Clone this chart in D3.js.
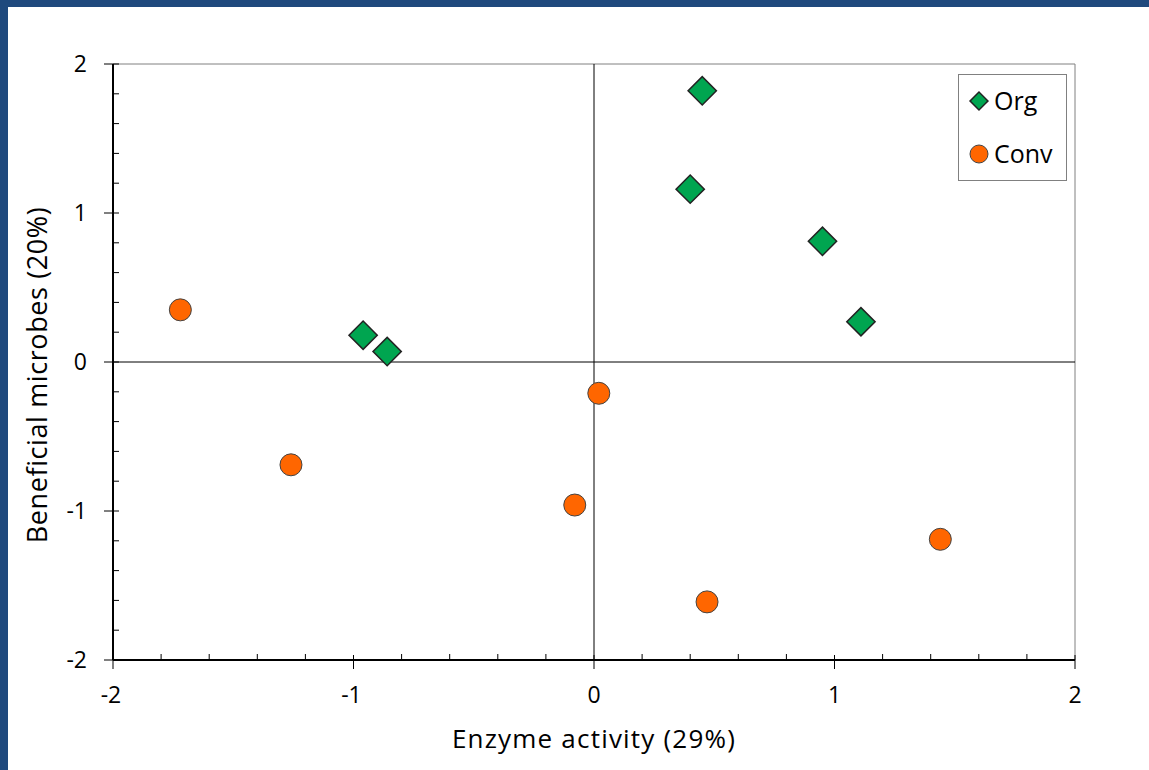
<!DOCTYPE html>
<html>
<head>
<meta charset="utf-8">
<script src="https://cdn.jsdelivr.net/npm/d3@7"></script>
<style>
  body { margin: 0; background: #fff; }
  svg { display: block; font-family: "Open Sans", Lato, sans-serif; }
</style>
</head>
<body>
<script>
// PCA scores
var orgX = [0.45, 0.40, 0.95, 1.11, -0.96, -0.86];
var orgY = [1.82, 1.16, 0.81, 0.27, 0.18, 0.07];
var convX = [-1.72, -1.26, 0.02, -0.08, 1.44, 0.47];
var convY = [0.35, -0.69, -0.21, -0.96, -1.19, -1.61];
var majorTicks = [-2, -1, 0, 1, 2];
var seriesNames = ["Org", "Conv"];

var w = 1149, h = 770;
var svg = d3.select("body").append("svg")
            .attr("width", w)
            .attr("height", h);

// blue frame on left and top
svg.append("rect").attr("x", 0).attr("y", 0).attr("width", w).attr("height", 7).attr("fill", "#1f497d");
svg.append("rect").attr("x", 0).attr("y", 0).attr("width", 8).attr("height", h).attr("fill", "#1f497d");

var x = d3.scaleLinear().domain([-2, 2]).range([113, 1075]);
var y = d3.scaleLinear().domain([-2, 2]).range([660, 64]);

var minor = d3.range(-2, 2.001, 0.2).filter(function(v) { return Math.abs(v - Math.round(v)) > 0.01; });

// plot border (top & right)
svg.append("line").attr("x1", x(-2)).attr("x2", x(2)).attr("y1", y(2)).attr("y2", y(2))
   .attr("stroke", "#808080").attr("stroke-width", 1);
svg.append("line").attr("x1", x(2)).attr("x2", x(2)).attr("y1", y(2)).attr("y2", y(-2))
   .attr("stroke", "#808080").attr("stroke-width", 1);

// zero lines
svg.append("line").attr("x1", x(0)).attr("x2", x(0)).attr("y1", y(2)).attr("y2", y(-2))
   .attr("stroke", "#000").attr("stroke-width", 1);
svg.append("line").attr("x1", x(-2)).attr("x2", x(2)).attr("y1", y(0)).attr("y2", y(0))
   .attr("stroke", "#000").attr("stroke-width", 1);

// axes lines
svg.append("line").attr("x1", x(-2)).attr("x2", x(2)).attr("y1", y(-2)).attr("y2", y(-2))
   .attr("stroke", "#000").attr("stroke-width", 2);
svg.append("line").attr("x1", x(-2)).attr("x2", x(-2)).attr("y1", y(2)).attr("y2", y(-2))
   .attr("stroke", "#000").attr("stroke-width", 2);

// x ticks
svg.selectAll(".xmaj").data(majorTicks).enter().append("line")
   .attr("x1", function(d) { return x(d); }).attr("x2", function(d) { return x(d); })
   .attr("y1", y(-2) - 5).attr("y2", y(-2) + 9)
   .attr("stroke", "#000").attr("stroke-width", 1);
svg.selectAll(".xmin").data(minor).enter().append("line")
   .attr("x1", function(d) { return x(d); }).attr("x2", function(d) { return x(d); })
   .attr("y1", y(-2) - 6).attr("y2", y(-2))
   .attr("stroke", "#000").attr("stroke-width", 1);
svg.selectAll(".xlab").data(majorTicks).enter().append("text")
   .attr("x", function(d) { return x(d) - (d < 0 ? 2 : 0); }).attr("y", 703)
   .attr("text-anchor", "middle").attr("font-size", 23)
   .text(function(d) { return d; });

// y ticks
svg.selectAll(".ymaj").data(majorTicks).enter().append("line")
   .attr("y1", function(d) { return y(d); }).attr("y2", function(d) { return y(d); })
   .attr("x1", x(-2) - 9).attr("x2", x(-2) + 6)
   .attr("stroke", "#000").attr("stroke-width", 1);
svg.selectAll(".ymin").data(minor).enter().append("line")
   .attr("y1", function(d) { return y(d); }).attr("y2", function(d) { return y(d); })
   .attr("x1", x(-2)).attr("x2", x(-2) + 6)
   .attr("stroke", "#000").attr("stroke-width", 1);
svg.selectAll(".ylab").data(majorTicks).enter().append("text")
   .attr("x", 87).attr("y", function(d) { return y(d) + 8; })
   .attr("text-anchor", "end").attr("font-size", 23)
   .text(function(d) { return d; });

// axis titles
svg.append("text").attr("x", x(0)).attr("y", 748)
   .attr("text-anchor", "middle").attr("font-size", 26).attr("letter-spacing", 1.2)
   .text("Enzyme activity (29%)");
svg.append("text").attr("transform", "translate(47,375) rotate(-90)")
   .attr("text-anchor", "middle").attr("font-size", 27).attr("letter-spacing", 0.6)
   .text("Beneficial microbes (20%)");

var diamond = d3.symbol().type(d3.symbolSquare).size(400);
var org = orgX.map(function(v, i) { return [v, orgY[i]]; });
var conv = convX.map(function(v, i) { return [v, convY[i]]; });

svg.append("g").selectAll("path")
   .data(org).enter().append("path")
   .attr("d", diamond)
   .attr("transform", function(d) { return "translate(" + x(d[0]) + "," + y(d[1]) + ") rotate(45)"; })
   .attr("fill", "#00a550").attr("stroke", "#222").attr("stroke-width", 1.5);

svg.append("g").selectAll("circle")
   .data(conv).enter().append("circle")
   .attr("cx", function(d) { return x(d[0]); })
   .attr("cy", function(d) { return y(d[1]); })
   .attr("r", 11)
   .attr("fill", "#ff6600").attr("stroke", "#444").attr("stroke-width", 1);

// legend
var lg = svg.append("g");
lg.append("rect").attr("x", 958.5).attr("y", 74.5).attr("width", 108).attr("height", 106)
  .attr("fill", "#fff").attr("stroke", "#808080").attr("stroke-width", 1);
lg.append("path").attr("d", d3.symbol().type(d3.symbolSquare).size(160))
  .attr("transform", "translate(979,101) rotate(45)")
  .attr("fill", "#00a550").attr("stroke", "#222").attr("stroke-width", 1.5);
lg.append("circle").attr("cx", 979).attr("cy", 154).attr("r", 9)
  .attr("fill", "#ff6600").attr("stroke", "#444").attr("stroke-width", 1);
lg.selectAll("text").data(seriesNames).enter().append("text")
  .attr("x", 994).attr("y", function(d, i) { return 110 + i * 53; })
  .attr("font-size", 25)
  .text(function(d) { return d; });
</script>
</body>
</html>
